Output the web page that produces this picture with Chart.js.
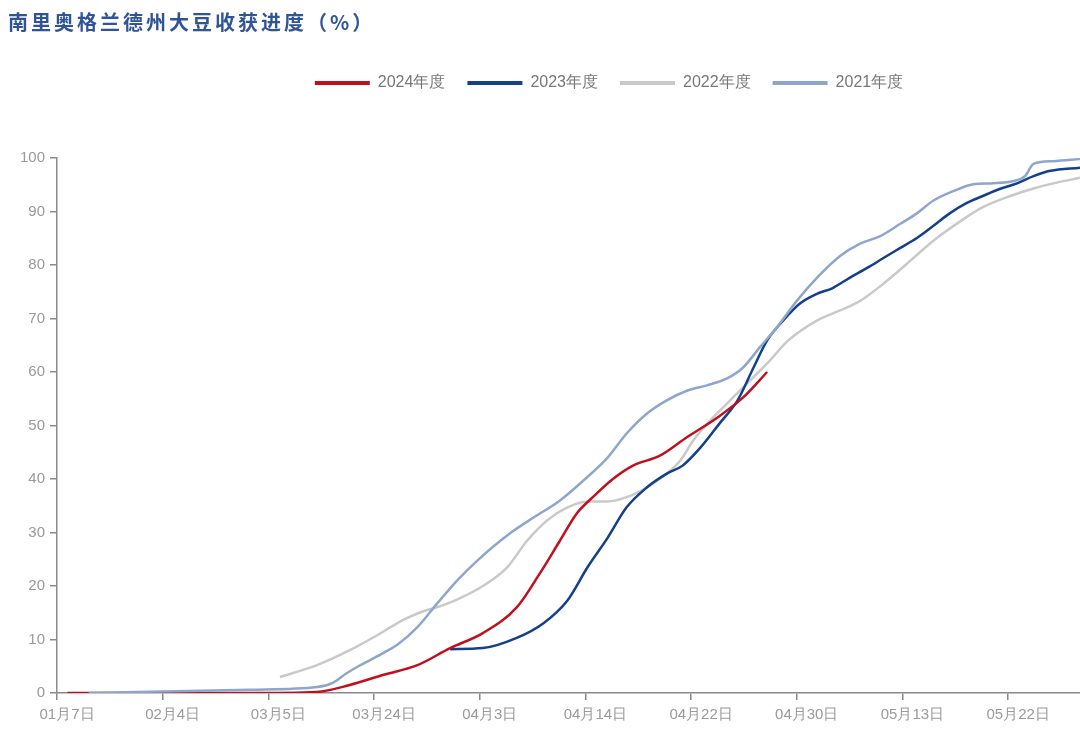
<!DOCTYPE html>
<html><head><meta charset="utf-8">
<script src="https://cdn.jsdelivr.net/npm/chart.js@4.4.1/dist/chart.umd.min.js"></script>
<style>html,body{margin:0;padding:0;background:#fff;}#wrap{width:1080px;height:739px;}</style>
</head><body><div id="wrap"><canvas id="c" width="1080" height="739"></canvas></div>
<script>
const chartTitle = '南里奥格兰德州大豆收获进度（%）';
const tickLabels = ['01月7日','02月4日','03月5日','03月24日','04月3日','04月14日','04月22日','04月30日','05月13日','05月22日'];
const seriesNames = ['2024年度','2023年度','2022年度','2021年度'];
const seriesColors = ['#c0101e','#143f8a','#c9c9c9','#8ea6cc'];

// x positions in tick-interval units (0 = 01月7日, 1 = 02月4日, ...)
const x2024 = [0.1,0.3,1.0,1.8,2.46,2.77,3.09,3.41,3.72,4.03,4.35,4.57,4.76,4.92,5.07,5.26,5.45,5.71,5.96,6.25,6.49,6.72];
const y2024 = [0,0,0,0,0.2,1.5,3.4,5.2,8.4,11.2,16,22.4,28.5,33.6,36.6,40,42.5,44.4,47.8,51.5,55.2,60];

const x2023 = [3.72,4.03,4.35,4.60,4.83,5.02,5.21,5.39,5.58,5.77,5.92,6.09,6.27,6.44,6.59,6.72,6.87,7.03,7.19,7.34,7.50,7.67,7.82,7.98,8.14,8.29,8.45,8.61,8.76,8.92,9.09,9.24,9.40,9.68];
const y2023 = [8.2,8.4,10.3,13,17.3,23.5,29,34.7,38.4,41,42.5,45.9,50.4,54.7,60.8,65.9,69.6,72.8,74.6,75.7,77.6,79.5,81.3,83.2,85.1,87.3,89.7,91.6,92.9,94.2,95.3,96.6,97.6,98.2];

const x2022 = [2.11,2.46,2.77,3.03,3.25,3.44,3.62,3.81,4.03,4.26,4.45,4.64,4.83,5.02,5.21,5.39,5.58,5.77,5.90,6.02,6.18,6.34,6.49,6.72,6.92,7.19,7.41,7.60,7.82,8.04,8.29,8.55,8.76,9.02,9.24,9.46,9.68];
const y2022 = [3,5.2,8,10.8,13.4,15.1,16.2,17.7,20,23.5,28.5,32.3,34.7,35.8,35.8,36.6,38.4,41,43.5,47.2,50.9,54.1,57.1,61.6,65.9,69.6,71.5,73.3,76.5,80.2,84.5,88.2,90.8,92.9,94.3,95.4,96.3];

const x2021 = [0.3,1.0,1.83,2.46,2.61,2.74,2.87,3.09,3.22,3.41,3.60,3.79,3.98,4.29,4.51,4.76,4.98,5.21,5.39,5.58,5.77,5.96,6.15,6.34,6.49,6.65,6.81,7.00,7.19,7.41,7.60,7.79,7.98,8.14,8.29,8.48,8.67,8.86,9.05,9.16,9.24,9.43,9.68];
const y2021 = [0,0.3,0.6,1.1,1.9,3.7,5.2,7.5,9,12.3,16.8,21.1,24.8,29.9,32.8,36,39.7,44,48.5,52.2,54.7,56.5,57.5,58.8,60.8,64.6,68.3,73.3,77.6,81.7,84,85.4,87.7,89.7,92,93.8,95.1,95.3,95.7,96.6,98.9,99.4,99.8];

const xs = [x2024,x2023,x2022,x2021];
const ys = [y2024,y2023,y2022,y2021];
const drawOrder = [1,2,3,0];

const datasets = seriesNames.map((name,i)=>({
  label: name,
  data: xs[i].map((x,j)=>({x:x,y:ys[i][j]})),
  borderColor: seriesColors[i],
  backgroundColor: seriesColors[i],
  borderWidth: 2.5,
  pointRadius: 0,
  pointHoverRadius: 0,
  cubicInterpolationMode: 'monotone',
  order: drawOrder[i]
}));

const LEGEND_DX = 69;
const LEGEND_EXTRA = 57;
const TITLE_DX = 8;
const shiftPlugin = {
  id: 'shift',
  beforeLayout(chart){
    const lg = chart.legend;
    if(lg && !lg._patched){
      const f = lg.fit;
      lg.fit = function(){ f.apply(this, arguments); this.height += LEGEND_EXTRA; };
      lg._patched = true;
    }
  },
  afterLayout(chart){
    const lg = chart.legend; lg.left += LEGEND_DX; lg.right += LEGEND_DX;
    const tb = chart.titleBlock; tb.left += TITLE_DX; tb.right += TITLE_DX;
    if(!tb._wrapped){
      const orig = tb.draw;
      tb.draw = function(){ const ctx = this.ctx; ctx.save(); ctx.letterSpacing = '3px'; orig.apply(this, arguments); ctx.restore(); };
      tb._wrapped = true;
    }
  }
};

const axisColor = '#8a8a8a';
new Chart(document.getElementById('c'), {
  type: 'line',
  data: { datasets },
  plugins: [shiftPlugin],
  options: {
    responsive: false,
    animation: false,
    layout: { padding: { top: 0, right: 0, left: 0, bottom: 0 } },
    plugins: {
      title: {
        display: true, text: chartTitle, align: 'start',
        color: '#2f5597',
        font: { family: '"Noto Sans CJK SC"', size: 20, weight: 'bold' },
        padding: { top: 10, bottom: 19 }
      },
      legend: {
        display: true, position: 'top', align: 'center',
        labels: {
          boxWidth: 55, boxHeight: 4, padding: 22,
          color: '#777777',
          font: { family: '"Liberation Sans Narrow", "Liberation Sans", sans-serif', size: 16 },
          sort: (a,b)=>a.datasetIndex-b.datasetIndex,
          generateLabels: (chart)=>Chart.defaults.plugins.legend.labels.generateLabels(chart).map(l=>Object.assign(l,{lineWidth:0}))
        }
      },
      tooltip: { enabled: false }
    },
    scales: {
      x: {
        type: 'linear', min: 0, max: 9.68,
        grid: { display: true, drawOnChartArea: false, drawTicks: true, tickLength: 7, color: axisColor, lineWidth: 1.5 },
        border: { display: true, color: axisColor, width: 1.5 },
        ticks: {
          stepSize: 1, includeBounds: false, autoSkip: false, maxRotation: 0,
          labelOffset: 10, padding: 6,
          color: '#9a9a9a',
          font: { family: '"Liberation Sans", sans-serif', size: 15 },
          callback: (v)=> (Number.isInteger(v) && tickLabels[v] !== undefined) ? tickLabels[v] : ''
        },
        afterFit: (s)=>{ s.height = 46; }
      },
      y: {
        type: 'linear', min: 0, max: 100,
        grid: { display: true, drawOnChartArea: false, drawTicks: true, tickLength: 7, color: axisColor, lineWidth: 1.5 },
        border: { display: true, color: axisColor, width: 1.5 },
        ticks: { stepSize: 10, padding: 5, color: '#9a9a9a', font: { family: '"Liberation Sans", sans-serif', size: 15 } },
        afterFit: (s)=>{ s.width = 57; }
      }
    }
  }
});
</script></body></html>
